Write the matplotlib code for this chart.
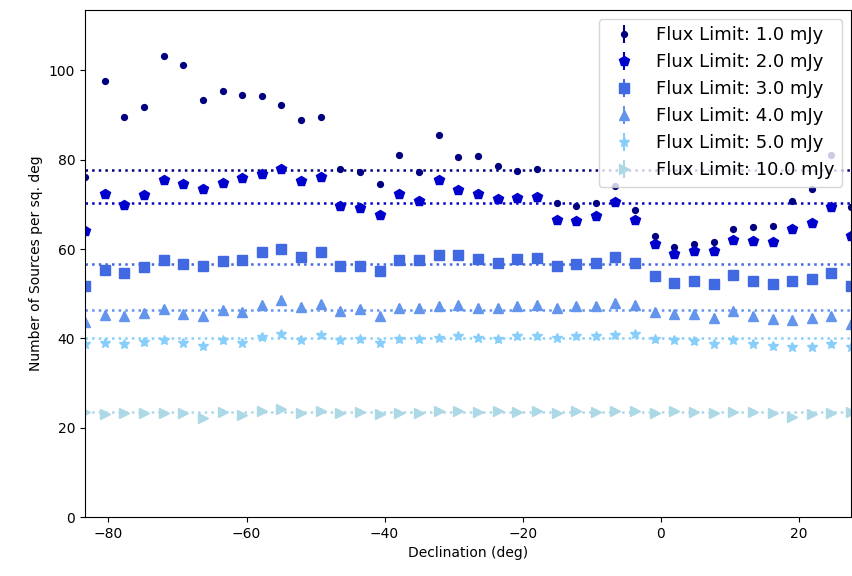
import matplotlib
matplotlib.use("Agg")
import matplotlib.pyplot as plt

# declination bin centres (deg)
dec = [-83.40, -80.55, -77.71, -74.86, -72.02, -69.17, -66.32, -63.48, -60.63, -57.78,
       -54.94, -52.09, -49.25, -46.40, -43.55, -40.71, -37.86, -35.02, -32.17, -29.32,
       -26.48, -23.63, -20.78, -17.94, -15.09, -12.25, -9.40, -6.55, -3.71, -0.86,
       1.98, 4.83, 7.68, 10.52, 13.37, 16.22, 19.06, 21.91, 24.75, 27.60]

flux_limits = [1.0, 2.0, 3.0, 4.0, 5.0, 10.0]

counts_1mjy = [76.1, 97.6, 89.6, 91.9, 103.2, 101.1, 93.4, 95.5, 94.6, 94.3,
               92.3, 89.0, 89.6, 77.9, 77.3, 74.6, 81.1, 77.3, 85.5, 80.5,
               80.8, 78.7, 77.5, 77.9, 70.2, 69.7, 70.2, 74.1, 68.7, 62.9,
               60.5, 61.1, 61.6, 64.4, 64.9, 65.2, 70.7, 73.4, 81.1, 69.4]
counts_2mjy = [64.0, 72.3, 69.9, 72.0, 75.4, 74.6, 73.4, 74.9, 75.9, 76.7,
               77.9, 75.2, 76.1, 69.7, 69.3, 67.6, 72.3, 70.8, 75.5, 73.2,
               72.3, 71.1, 71.5, 71.7, 66.6, 66.3, 67.3, 70.5, 66.4, 61.1,
               59.0, 59.6, 59.6, 62.1, 61.7, 61.5, 64.4, 65.8, 69.4, 63.0]
counts_3mjy = [51.7, 55.3, 54.7, 55.9, 57.5, 56.6, 56.2, 57.3, 57.5, 59.3,
               60.1, 58.2, 59.3, 56.2, 56.2, 55.1, 57.5, 57.5, 58.6, 58.6,
               57.7, 56.9, 57.7, 57.9, 56.2, 56.6, 56.9, 58.2, 56.9, 53.9,
               52.5, 52.8, 52.1, 54.3, 52.8, 52.1, 52.9, 53.4, 54.7, 51.7]
counts_4mjy = [43.7, 45.2, 45.0, 45.6, 46.5, 45.4, 45.0, 46.3, 45.9, 47.4,
               48.5, 47.0, 47.8, 46.2, 46.5, 45.1, 46.7, 46.7, 47.3, 47.4,
               46.9, 46.7, 47.2, 47.4, 46.7, 47.2, 47.2, 48.0, 47.4, 45.8,
               45.4, 45.4, 44.6, 46.2, 45.0, 44.3, 44.1, 44.5, 45.0, 43.3]
counts_5mjy = [38.7, 39.0, 38.7, 39.2, 39.6, 39.0, 38.3, 39.6, 39.0, 40.3,
               40.9, 39.7, 40.7, 39.6, 39.8, 39.0, 39.8, 39.8, 40.1, 40.6,
               40.1, 39.8, 40.5, 40.5, 40.1, 40.5, 40.5, 40.7, 40.9, 39.8,
               39.7, 39.4, 38.8, 39.7, 38.8, 38.3, 38.1, 38.1, 38.7, 38.0]
counts_10mjy = [23.6, 23.0, 23.4, 23.4, 23.3, 23.3, 22.2, 23.6, 22.8, 23.8,
                24.1, 23.3, 23.8, 23.2, 23.6, 23.0, 23.4, 23.2, 23.7, 23.8,
                23.6, 23.8, 23.6, 23.8, 23.4, 23.8, 23.6, 23.8, 23.8, 23.4,
                23.8, 23.6, 23.2, 23.6, 23.6, 23.2, 22.4, 23.0, 23.3, 23.6]

# average density per flux limit (dotted reference lines)
mean_levels = [77.6, 70.2, 56.7, 46.3, 40.0, 23.6]
count_errors = [0.4, 0.7, 0.9, 0.9, 0.8, 0.6]

all_counts = [counts_1mjy, counts_2mjy, counts_3mjy, counts_4mjy, counts_5mjy, counts_10mjy]
colors = ['navy', 'mediumblue', 'royalblue', 'cornflowerblue', 'lightskyblue', 'lightblue']
markers = ['o', 'p', 's', '^', '*', '>']
sizes = [4.2, 7, 6.5, 6.5, 7.5, 6.5]

fig = plt.figure(figsize=(8.52, 5.76), dpi=100)
ax = fig.add_axes([0.0998, 0.1024, 0.8992, 0.8802])

for flux, counts, err, mean, c, m, ms in zip(flux_limits, all_counts, count_errors,
                                            mean_levels, colors, markers, sizes):
    ax.errorbar(dec, counts, yerr=err, fmt=m, color=c, markersize=ms,
                label=f'Flux Limit: {flux} mJy')
    ax.axhline(mean, color=c, linestyle=':', linewidth=1.8)

ax.set_xlim(min(dec), max(dec))
ax.set_ylim(0, max(max(cs) for cs in all_counts) * 1.1)
ax.set_xlabel('Declination (deg)')
ax.set_ylabel('Number of Sources per sq. deg')
ax.legend(loc='upper right', fontsize=13)

fig.savefig('out.png', dpi=100)
